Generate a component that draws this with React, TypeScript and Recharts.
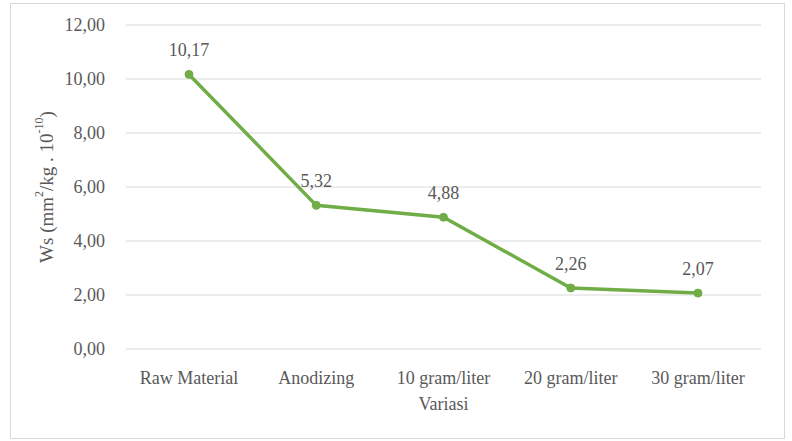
import {
  LineChart,
  Line,
  XAxis,
  YAxis,
  CartesianGrid,
  LabelList,
  Label,
} from "recharts";

const categories = [
  "Raw Material",
  "Anodizing",
  "10 gram/liter",
  "20 gram/liter",
  "30 gram/liter",
];
const wsValues = [10.17, 5.32, 4.88, 2.26, 2.07];
const yTicks = [0, 2, 4, 6, 8, 10, 12];

const data = categories.map((name, i) => ({ name, ws: wsValues[i] }));

const FONT = "'Times New Roman', 'Liberation Serif', 'DejaVu Serif', serif";
const TEXT = "#595959";

const fmt = (v: number) => v.toFixed(2).replace(".", ",");

function YTitle(props: any) {
  const vb = props.viewBox || {};
  const cx = 46;
  const cy = vb.y + vb.height / 2;
  return (
    <text
      x={cx}
      y={cy}
      transform={`rotate(-90, ${cx}, ${cy})`}
      textAnchor="middle"
      dominantBaseline="central"
      fill={TEXT}
      fontFamily={FONT}
      fontSize={19}
    >
      <tspan>Ws (mm</tspan>
      <tspan fontSize={12} dy={-7}>2</tspan>
      <tspan dy={7}>/kg . 10</tspan>
      <tspan fontSize={12} dy={-7}>-10</tspan>
      <tspan dy={7}>)</tspan>
    </text>
  );
}

const tickStyle = { fill: TEXT, fontFamily: FONT, fontSize: 18 };

export default function App() {
  return (
    <div
      style={{
        position: "absolute",
        left: 0,
        top: 0,
        width: 792,
        height: 441,
        background: "#fff",
      }}
    >
      <div
        style={{
          position: "absolute",
          left: 10,
          top: 3,
          width: 773,
          height: 434,
          border: "1px solid #d9d9d9",
        }}
      />
      <LineChart
        width={792}
        height={441}
        data={data}
        margin={{ top: 25, right: 31, left: 45, bottom: 22 }}
        style={{ position: "absolute", left: 0, top: 0, fontFamily: FONT }}
      >
        <CartesianGrid vertical={false} stroke="#d9d9d9" strokeWidth={1} />
        <XAxis
          dataKey="name"
          axisLine={false}
          tickLine={false}
          height={70}
          tickMargin={16}
          padding={{ left: 63, right: 63 }}
          tick={tickStyle}
          interval={0}
        >
          <Label
            value="Variasi"
            position="insideBottom"
            offset={9}
            fill={TEXT}
            fontFamily={FONT}
            fontSize={18}
          />
        </XAxis>
        <YAxis
          domain={[0, 12]}
          ticks={yTicks}
          tickFormatter={fmt}
          axisLine={false}
          tickLine={false}
          width={81}
          tickMargin={15}
          tick={tickStyle}
        >
          <Label content={<YTitle />} />
        </YAxis>
        <Line
          type="linear"
          dataKey="ws"
          stroke="#70ad47"
          strokeWidth={3.5}
          dot={{ r: 4, fill: "#70ad47", stroke: "#70ad47", strokeWidth: 1 }}
          isAnimationActive={false}
        >
          <LabelList
            dataKey="ws"
            position="top"
            offset={18}
            formatter={(v: any) => fmt(Number(v))}
            fill={TEXT}
            fontFamily={FONT}
            fontSize={18}
          />
        </Line>
      </LineChart>
    </div>
  );
}
